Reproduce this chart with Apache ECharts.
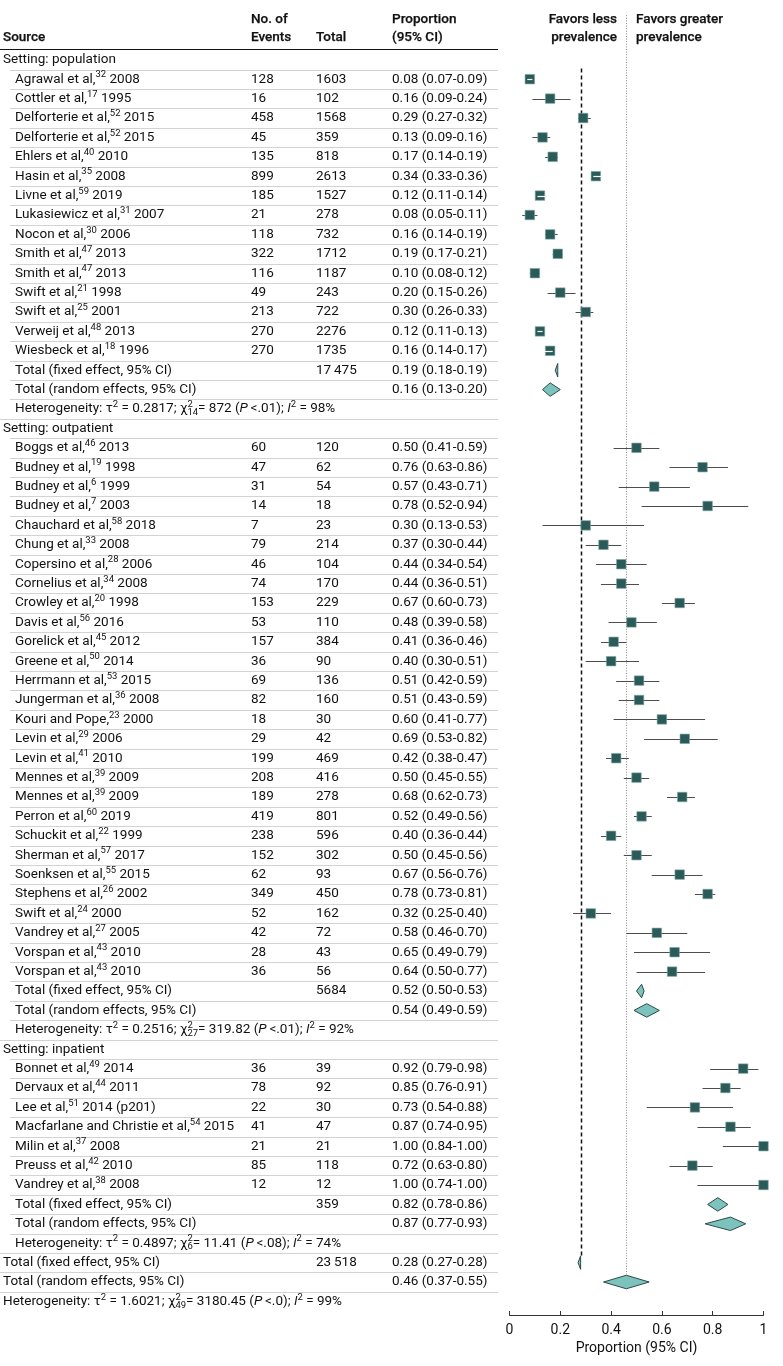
<!DOCTYPE html>
<html><head><meta charset="utf-8">
<script src="https://cdn.jsdelivr.net/npm/echarts@6/dist/echarts.min.js"></script>
<style>html,body{margin:0;padding:0;background:#fff}#c{width:783px;height:1366px}</style>
</head><body><div id="c"></div>
<script>
// ---------------- DATA ----------------
const popAuthors = ['Agrawal et al,','Cottler et al,','Delforterie et al,','Delforterie et al,','Ehlers et al,','Hasin et al,','Livne et al,','Lukasiewicz et al,','Nocon et al,','Smith et al,','Smith et al,','Swift et al,','Swift et al,','Verweij et al,','Wiesbeck et al,'];
const popRefs = ['32','17','52','52','40','35','59','31','30','47','47','21','25','48','18'];
const popYears = ['2008','1995','2015','2015','2010','2008','2019','2007','2006','2013','2013','1998','2001','2013','1996'];
const popEvents = [128,16,458,45,135,899,185,21,118,322,116,49,213,270,270];
const popTotals = [1603,102,1568,359,818,2613,1527,278,732,1712,1187,243,722,2276,1735];
const popProp  = [0.08,0.16,0.29,0.13,0.17,0.34,0.12,0.08,0.16,0.19,0.10,0.20,0.30,0.12,0.16];
const popLower = [0.07,0.09,0.27,0.09,0.14,0.33,0.11,0.05,0.14,0.17,0.08,0.15,0.26,0.11,0.14];
const popUpper = [0.09,0.24,0.32,0.16,0.19,0.36,0.14,0.11,0.19,0.21,0.12,0.26,0.33,0.13,0.17];
const popFixedTotal = 17475;
const popFixed = [0.19,0.18,0.19];
const popRandom = [0.16,0.13,0.20];
const popHet = ['0.2817','14','872','<.01','98%'];

const outAuthors = ['Boggs et al,','Budney et al,','Budney et al,','Budney et al,','Chauchard et al,','Chung et al,','Copersino et al,','Cornelius et al,','Crowley et al,','Davis et al,','Gorelick et al,','Greene et al,','Herrmann et al,','Jungerman et al,','Kouri and Pope,','Levin et al,','Levin et al,','Mennes et al,','Mennes et al,','Perron et al,','Schuckit et al,','Sherman et al,','Soenksen et al,','Stephens et al,','Swift et al,','Vandrey et al,','Vorspan et al,','Vorspan et al,'];
const outRefs = ['46','19','6','7','58','33','28','34','20','56','45','50','53','36','23','29','41','39','39','60','22','57','55','26','24','27','43','43'];
const outYears = ['2013','1998','1999','2003','2018','2008','2006','2008','1998','2016','2012','2014','2015','2008','2000','2006','2010','2009','2009','2019','1999','2017','2015','2002','2000','2005','2010','2010'];
const outEvents = [60,47,31,14,7,79,46,74,153,53,157,36,69,82,18,29,199,208,189,419,238,152,62,349,52,42,28,36];
const outTotals = [120,62,54,18,23,214,104,170,229,110,384,90,136,160,30,42,469,416,278,801,596,302,93,450,162,72,43,56];
const outProp  = [0.50,0.76,0.57,0.78,0.30,0.37,0.44,0.44,0.67,0.48,0.41,0.40,0.51,0.51,0.60,0.69,0.42,0.50,0.68,0.52,0.40,0.50,0.67,0.78,0.32,0.58,0.65,0.64];
const outLower = [0.41,0.63,0.43,0.52,0.13,0.30,0.34,0.36,0.60,0.39,0.36,0.30,0.42,0.43,0.41,0.53,0.38,0.45,0.62,0.49,0.36,0.45,0.56,0.73,0.25,0.46,0.49,0.50];
const outUpper = [0.59,0.86,0.71,0.94,0.53,0.44,0.54,0.51,0.73,0.58,0.46,0.51,0.59,0.59,0.77,0.82,0.47,0.55,0.73,0.56,0.44,0.56,0.76,0.81,0.40,0.70,0.79,0.77];
const outFixedTotal = 5684;
const outFixed = [0.52,0.50,0.53];
const outRandom = [0.54,0.49,0.59];
const outHet = ['0.2516','27','319.82','<.01','92%'];

const inAuthors = ['Bonnet et al,','Dervaux et al,','Lee et al,','Macfarlane and Christie et al,','Milin et al,','Preuss et al,','Vandrey et al,'];
const inRefs = ['49','44','51','54','37','42','38'];
const inYears = ['2014','2011','2014 (p201)','2015','2008','2010','2008'];
const inEvents = [36,78,22,41,21,85,12];
const inTotals = [39,92,30,47,21,118,12];
const inProp  = [0.92,0.85,0.73,0.87,1.00,0.72,1.00];
const inLower = [0.79,0.76,0.54,0.74,0.84,0.63,0.74];
const inUpper = [0.98,0.91,0.88,0.95,1.00,0.80,1.00];
const inFixedTotal = 359;
const inFixed = [0.82,0.78,0.86];
const inRandom = [0.87,0.77,0.93];
const inHet = ['0.4897','6','11.41','<.08','74%'];

const allFixedTotal = 23518;
const allFixed = [0.28,0.27,0.28];
const allRandom = [0.46,0.37,0.55];
const allHet = ['1.6021','49','3180.45','<.0','99%'];

const settings = ['population','outpatient','inpatient'];
const xTicks = [0,0.2,0.4,0.6,0.8,1];

// ---------------- ROWS ----------------
const groups = [
  {name:settings[0], a:popAuthors, r:popRefs, y:popYears, e:popEvents, n:popTotals, p:popProp, lo:popLower, hi:popUpper, ft:popFixedTotal, f:popFixed, rd:popRandom, h:popHet},
  {name:settings[1], a:outAuthors, r:outRefs, y:outYears, e:outEvents, n:outTotals, p:outProp, lo:outLower, hi:outUpper, ft:outFixedTotal, f:outFixed, rd:outRandom, h:outHet},
  {name:settings[2], a:inAuthors, r:inRefs, y:inYears, e:inEvents, n:inTotals, p:inProp, lo:inLower, hi:inUpper, ft:inFixedTotal, f:inFixed, rd:inRandom, h:inHet}
];
function fmtN(n){ const s=String(n); return n>=10000 ? s.replace(/\B(?=(\d{3})+(?!\d))/g,'\u2009') : s; }
function fmtP(est,lo,hi){ return est.toFixed(2)+' ('+lo.toFixed(2)+'-'+hi.toFixed(2)+')'; }
function hetRuns(h){
  return [{t:'Heterogeneity: τ'},{t:'2',s:'sup'},{t:' = '+h[0]+'; χ'},{s:'stack',sup:'2',sub:h[1]},
          {t:'= '+h[2]+' ('},{t:'P',s:'it'},{t:'\u2009'+h[3]+'); '},{t:'I',s:'it'},{t:'2',s:'sup'},{t:' = '+h[4]}];
}
const rows = [];
groups.forEach(g=>{
  rows.push({kind:'setting', runs:[{t:'Setting: '+g.name}], indent:false});
  g.a.forEach((a,k)=>{
    rows.push({kind:'study', indent:true, runs:[{t:a},{t:g.r[k],s:'sup'},{t:' '+g.y[k]}],
      events:String(g.e[k]), total:fmtN(g.n[k]), ptxt:fmtP(g.p[k],g.lo[k],g.hi[k]), est:g.p[k], lo:g.lo[k], hi:g.hi[k]});
  });
  rows.push({kind:'diamond', indent:true, runs:[{t:'Total (fixed effect, 95% CI)'}], total:fmtN(g.ft), ptxt:fmtP(g.f[0],g.f[1],g.f[2]), est:g.f[0], lo:g.f[1], hi:g.f[2]});
  rows.push({kind:'diamond', indent:true, runs:[{t:'Total (random effects, 95% CI)'}], ptxt:fmtP(g.rd[0],g.rd[1],g.rd[2]), est:g.rd[0], lo:g.rd[1], hi:g.rd[2]});
  rows.push({kind:'het', indent:true, runs:hetRuns(g.h)});
});
rows.push({kind:'diamond', indent:false, runs:[{t:'Total (fixed effect, 95% CI)'}], total:fmtN(allFixedTotal), ptxt:fmtP(allFixed[0],allFixed[1],allFixed[2]), est:allFixed[0], lo:allFixed[1], hi:allFixed[2]});
rows.push({kind:'diamond', indent:false, runs:[{t:'Total (random effects, 95% CI)'}], ptxt:fmtP(allRandom[0],allRandom[1],allRandom[2]), est:allRandom[0], lo:allRandom[1], hi:allRandom[2]});
rows.push({kind:'het', indent:false, runs:hetRuns(allHet)});

// ---------------- STYLE / LAYOUT ----------------
const FONT = 'Roboto';
const TXT = '#111111';
const cv = document.createElement('canvas'); const ctx = cv.getContext('2d');
function measure(t,size,italic){ ctx.font=(italic?'italic ':'')+size+'px '+FONT; return ctx.measureText(t).width; }
let F = 13*181.7/measure('Total (random effects, 95% CI)',13);
F = Math.max(11, Math.min(14, F));
const FS = F*0.7;

function textEl(x,y,t,size,italic,weight){
  return {type:'text', x:x, y:y, style:{text:t, fontSize:size, fontFamily:FONT, fontStyle:italic?'italic':'normal', fontWeight:weight||'normal', fill:TXT, align:'left', verticalAlign:'middle'}};
}
function runEls(x,y,runs){
  const out=[]; let cx=x;
  runs.forEach(r=>{
    if(r.s==='sup'){ out.push(textEl(cx,y-4.2,r.t,FS)); cx+=measure(r.t,FS); }
    else if(r.s==='sub'){ out.push(textEl(cx,y+3.5,r.t,FS)); cx+=measure(r.t,FS); }
    else if(r.s==='stack'){ out.push(textEl(cx,y-4.2,r.sup,FS)); out.push(textEl(cx,y+3.8,r.sub,FS)); cx+=Math.max(measure(r.sup,FS),measure(r.sub,FS)); }
    else if(r.s==='it'){ out.push(textEl(cx,y,r.t,F,true)); cx+=measure(r.t,F,true); }
    else { out.push(textEl(cx,y,r.t,F)); cx+=measure(r.t,F); }
  });
  return out;
}

const COL_EV=251, COL_TOT=316, COL_P=392, TABLE_R=498;
const SQ=9.5, DH=13.5;

function renderRow(params, api){
  const i = api.value(1); const r = rows[i];
  const p0 = api.coord([0,i]), p1 = api.coord([1,i]);
  const y = p0[1];
  const sx = v => p0[0] + (p1[0]-p0[0])*v;
  const ch = [];
  if(i < rows.length-1){
    const yn = api.coord([0,i+1])[1];
    const ly = Math.round((y+yn)/2)+0.5;
    ch.push({type:'line', shape:{x1:rows[i+1].indent?10:0, y1:ly, x2:TABLE_R, y2:ly}, style:{stroke:'#d3d3d3', lineWidth:1.2}});
  }
  runEls(r.indent?15:3, y, r.runs).forEach(e=>ch.push(e));
  if(r.events) ch.push(textEl(COL_EV,y,r.events,F));
  if(r.total) ch.push(textEl(COL_TOT,y,r.total,F));
  if(r.ptxt) ch.push(textEl(COL_P,y,r.ptxt,F));
  const ym = Math.round(y)+0.5;
  if(r.kind==='study'){
    const xl=sx(r.lo), xh=sx(r.hi), xe=sx(r.est);
    ch.push({type:'line', shape:{x1:xl,y1:ym,x2:xh,y2:ym}, style:{stroke:'#4d4d4d', lineWidth:1}});
    ch.push({type:'rect', shape:{x:xe-SQ/2, y:y-SQ/2, width:SQ, height:SQ}, style:{fill:'#2b5b58', stroke:'#7fa6a2', lineWidth:0.6}});
    if(xh-xl < SQ) ch.push({type:'line', shape:{x1:xl,y1:ym,x2:xh,y2:ym}, style:{stroke:'#ffffff', lineWidth:1.2}});
  } else if(r.kind==='diamond'){
    const xl=sx(r.lo), xh=sx(r.hi), xe=sx(r.est);
    ch.push({type:'polygon', shape:{points:[[xl,y],[xe,y-DH/2],[xh,y],[xe,y+DH/2]]}, style:{fill:'#7cc2bd', stroke:'#2e4a48', lineWidth:1}});
  }
  return {type:'group', children:ch};
}

const refLines = [
  {est:allFixed[0], from:0.45, to:61.65, dash:[4,3], color:'#111', w:1.5},
  {est:allRandom[0], from:-2.3, to:62.6, dash:[1,1.6], color:'#8a8a8a', w:1}
];
function renderRef(params, api){
  const d = refLines[params.dataIndex];
  const a = api.coord([d.est, d.from]), b = api.coord([d.est, d.to]);
  const x = Math.round(a[0])+0.5;
  return {type:'line', shape:{x1:x,y1:a[1],x2:x,y2:b[1]}, style:{stroke:d.color, lineWidth:d.w, lineDash:d.dash}};
}

const hs = (x,y,t,al)=>({type:'text', x:x, y:y, style:{text:t, fontSize:F, fontFamily:FONT, fontWeight:500, fill:TXT, align:al||'left', verticalAlign:'middle', stroke:TXT, lineWidth:0.25}});
const chart = echarts.init(document.getElementById('c'), null, {renderer:'canvas'});
chart.setOption({
  animation:false,
  backgroundColor:'#fff',
  grid:{left:509.5, width:254, top:40.4, height:1274.6},
  xAxis:{type:'value', min:0, max:1, interval:0.2,
    axisLine:{onZero:false, lineStyle:{color:'#333', width:1}},
    axisTick:{inside:true, length:4, lineStyle:{color:'#333'}},
    axisLabel:{fontSize:F+0.5, fontFamily:FONT, color:TXT, margin:8, formatter:v=>String(+v.toFixed(1))},
    splitLine:{show:false},
    name:'Proportion (95% CI)', nameLocation:'middle', nameGap:26, nameTextStyle:{fontSize:F+0.5, fontFamily:FONT, color:TXT}},
  yAxis:{type:'value', inverse:true, min:-1, max:64.7, show:false},
  graphic:[
    hs(3,38,'Source'),
    hs(COL_EV,20,'No. of'), hs(COL_EV,38,'Events'),
    hs(COL_TOT,38,'Total'),
    hs(COL_P,20,'Proportion'), hs(COL_P,38,'(95% CI)'),
    hs(617,20,'Favors less','right'), hs(617,38,'prevalence','right'),
    hs(636,20,'Favors greater'), hs(636,38,'prevalence'),
    {type:'line', shape:{x1:0,y1:49.5,x2:TABLE_R,y2:49.5}, style:{stroke:'#111', lineWidth:1}}
  ],
  series:[
    {type:'custom', z:1, clip:false, renderItem:renderRef, data:refLines.map(d=>[d.est,d.from])},
    {type:'custom', z:2, clip:false, renderItem:renderRow, data:rows.map((r,i)=>[0.5,i])}
  ]
});
</script></body></html>
